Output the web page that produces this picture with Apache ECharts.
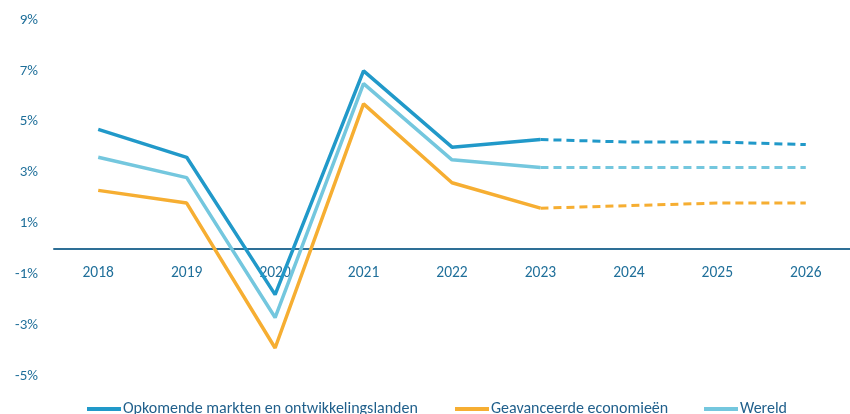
<!DOCTYPE html>
<html><head><meta charset="utf-8">
<script src="https://cdn.jsdelivr.net/npm/echarts@6/dist/echarts.min.js"></script>
<style>html,body{margin:0;padding:0;background:#fff}#c{width:850px;height:414px}</style>
</head><body><div id="c"></div>
<script>
const years = ['2018','2019','2020','2021','2022','2023','2024','2025','2026'];
const emde = [4.7, 3.6, -1.8, 7.0, 4.0, 4.3, 4.2, 4.2, 4.1];
const adv = [2.3, 1.8, -3.9, 5.7, 2.6, 1.6, 1.7, 1.8, 1.8];
const world = [3.6, 2.8, -2.7, 6.5, 3.5, 3.2, 3.2, 3.2, 3.2];
const names = ['Opkomende markten en ontwikkelingslanden', 'Geavanceerde economieën', 'Wereld'];
const colors = ['#2199c9', '#f6ae32', '#74c7de'];
const lastActual = 5; // index of 2023
const FONT = 'Carlito, Lato, "Open Sans", sans-serif';

function solid(a){ return a.map((v,i)=> i<=lastActual ? v : null); }
function dashed(a){ return a.map((v,i)=> i>=lastActual ? v : null); }

const data = [emde, adv, world];
const series = [];
data.forEach((d, k) => {
  series.push({name: names[k], type:'line', data: solid(d), symbol:'none', z: 13-k,
    lineStyle:{color: colors[k], width:3.5}, itemStyle:{color: colors[k]}});
});
data.forEach((d, k) => {
  series.push({name: names[k], type:'line', data: dashed(d), symbol:'none', z: 13-k,
    lineStyle:{color: colors[k], width:3, type:[8,5]}, itemStyle:{color: colors[k]}});
});

const legendLefts = [87, 455, 704];
const legends = names.map((n, k) => ({
  data:[n], top:401, left: legendLefts[k], itemWidth:34, itemHeight:4, itemGap:0,
  icon:'rect', padding:0,
  textStyle:{color:'#1f5f8b', fontSize:16, fontFamily: FONT, padding:[0,0,0,-3]}
}));

const chart = echarts.init(document.getElementById('c'), null, {renderer:'canvas'});
chart.setOption({
  animation:false,
  grid:{left:54, top:20, width:801, height:356, containLabel:false},
  legend: legends,
  xAxis:{type:'category', data: years, boundaryGap:true,
    axisLine:{onZero:false, lineStyle:{color:'#2e6f96', width:2}},
    offset:-(356*5/14),
    axisTick:{show:false},
    axisLabel:{color:'#1f6f9a', fontSize:15.5, fontFamily: FONT, margin:16}
  },
  yAxis:{type:'value', min:-5, max:9, interval:1,
    axisLine:{show:false}, axisTick:{show:false}, splitLine:{show:false},
    axisLabel:{color:'#1f6f9a', fontSize:15, fontFamily: FONT, margin:16,
      formatter: v => (Math.abs(v) % 2 === 1) ? v + '%' : ''}
  },
  series: series
});
</script></body></html>
